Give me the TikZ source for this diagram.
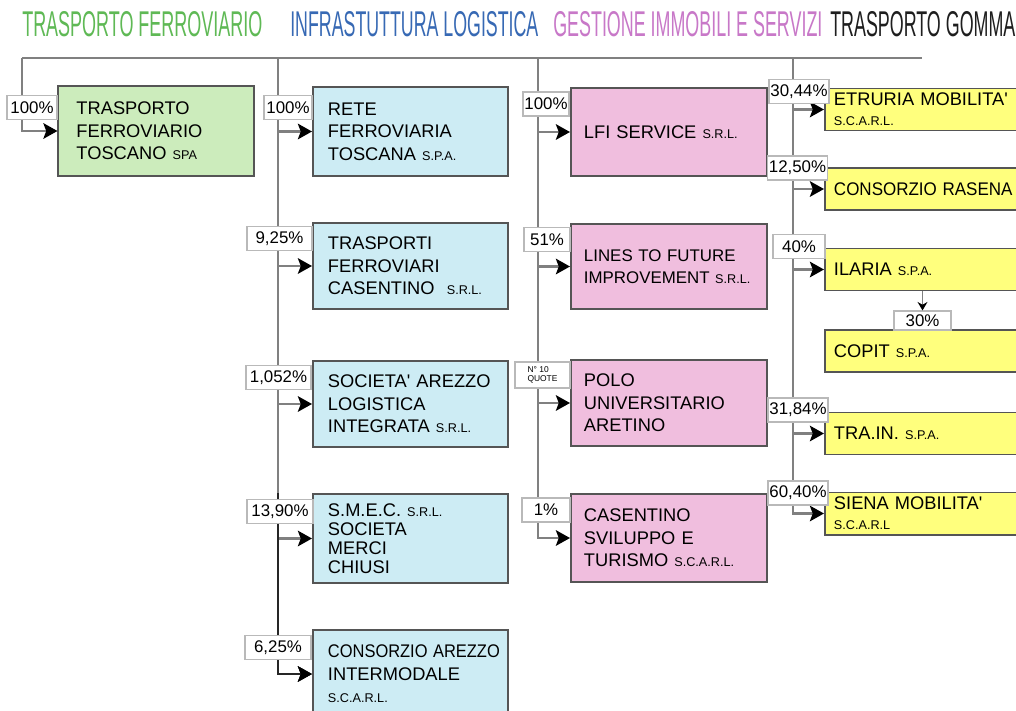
\documentclass[tikz,border=0pt]{standalone}
\usepackage{fontspec}
\setmainfont{Liberation Sans}
\usetikzlibrary{arrows.meta}
\definecolor{hdgreen}{RGB}{95,185,85}
\definecolor{hdblue}{RGB}{55,105,180}
\definecolor{hdpink}{RGB}{200,120,200}
\definecolor{hdblack}{RGB}{30,30,30}
\definecolor{tftgreen}{RGB}{204,236,188}
\definecolor{infblue}{RGB}{205,236,244}
\definecolor{svcpink}{RGB}{240,190,222}
\definecolor{gomyellow}{RGB}{255,255,125}
\definecolor{boxline}{RGB}{85,85,85}
\definecolor{busgray}{RGB}{128,128,128}
\definecolor{pctline}{RGB}{185,185,185}
\newcommand{\suf}[1]{{\fontsize{9}{10}\selectfont #1}}
\newcommand{\hdr}[3]{\resizebox{#1}{#2}{#3}}

\begin{document}
\begin{tikzpicture}[x=0.025cm, y=-0.025cm,
    box/.style={draw=boxline, line width=1.4pt, align=left, inner ysep=0pt,
      font=\fontsize{13}{16}\selectfont},
    col1/.style={fill=tftgreen, text width=3.975cm, inner xsep=0.45cm},
    col2/.style={fill=infblue, text width=4.125cm, inner xsep=0.375cm},
    col3/.style={fill=svcpink, text width=4.25cm, inner xsep=0.325cm},
    col4/.style={fill=gomyellow, text width=6.425cm, inner xsep=0.225cm,
      minimum height=1.05cm, font=\fontsize{13}{14}\selectfont},
    pct/.style={draw=pctline, fill=white, line width=0.8pt, inner xsep=1pt,
      inner ysep=0pt, minimum height=0.6cm, font=\fontsize{12}{12}\selectfont},
    bus/.style={draw=busgray, line width=1.8pt},
    arr/.style={draw=busgray, line width=1.8pt,
      -{Stealth[length=10pt, width=11pt, inset=2pt, color=black]}}]

  \fill[white] (0,0) rectangle (1016,710);
  \useasboundingbox (0,0) rectangle (1016,710);
  \clip (0,0) rectangle (1016,710);

  \begin{scope}[every node/.style={anchor=south west, inner sep=0pt}]
    \node[text=hdgreen] (h1) at (22,37) {\hdr{6cm}{0.625cm}{TRASPORTO FERROVIARIO}};
    \node[text=hdblue]  (h2) at (290,37) {\hdr{6.2cm}{0.625cm}{INFRASTUTTURA LOGISTICA}};
    \node[text=hdpink]  (h3) at (553,37) {\hdr{6.725cm}{0.625cm}{GESTIONE IMMOBILI E SERVIZI}};
    \node[text=hdblack] (h4) at (830,37) {\hdr{4.625cm}{0.625cm}{TRASPORTO GOMMA}};
  \end{scope}

  \begin{scope}[every node/.style={box}]
    \node[col1, minimum height=2.25cm] (tft) at (156,131) {TRASPORTO\\FERROVIARIO\\TOSCANO \suf{SPA}};

    \node[col2, minimum height=2.225cm] (rft)  at (410.5,131.5) {RETE\\FERROVIARIA\\TOSCANA \suf{S.P.A.}};
    \node[col2, minimum height=2.15cm]  (tfc)  at (410.5,266)   {TRASPORTI\\FERROVIARI\\CASENTINO~ \suf{S.R.L.}};
    \node[col2, minimum height=2.15cm]  (sali) at (410.5,404)   {SOCIETA\textquotesingle{} AREZZO\\LOGISTICA\\INTEGRATA \suf{S.R.L.}};
    \node[col2, minimum height=2.225cm, font=\fontsize{13}{13.5}\selectfont]
      (smec) at (410.5,538.5) {S.M.E.C. \suf{S.R.L.}\\SOCIETA\\MERCI\\CHIUSI};
    \node[col2, minimum height=2.2cm]   (cai)  at (410.5,674)   {\scalebox{0.9}[1]{CONSORZIO AREZZO}\\INTERMODALE\\\suf{S.C.A.R.L.}};

    \node[col3, minimum height=2.2cm]   (lfi)  at (669,132)   {LFI SERVICE \suf{S.R.L.}};
    \node[col3, minimum height=2.125cm, font=\fontsize{12}{16}\selectfont]
      (ltf)  at (669,266.5) {LINES TO FUTURE\\IMPROVEMENT \suf{S.R.L.}};
    \node[col3, minimum height=2.15cm]  (pua)  at (669,403)   {POLO\\UNIVERSITARIO\\ARETINO};
    \node[col3, minimum height=2.2cm]   (cst)  at (669,538)   {CASENTINO\\SVILUPPO E\\TURISMO \suf{S.C.A.R.L.}};

    \node[col4] (etr) at (962.5,109.5) {ETRURIA MOBILITA\textquotesingle\\\suf{S.C.A.R.L.}};
    \node[col4] (ras) at (962.5,189)   {\scalebox{0.93}[1]{CONSORZIO RASENA}};
    \node[col4] (ila) at (962.5,269.5) {ILARIA \suf{S.P.A.}};
    \node[col4] (cop) at (962.5,351)   {COPIT \suf{S.P.A.}};
    \node[col4] (tra) at (962.5,433.5) {TRA.IN. \suf{S.P.A.}};
    \node[col4] (sie) at (962.5,513.5) {SIENA MOBILITA\textquotesingle\\\suf{S.C.A.R.L}};
  \end{scope}

  \coordinate (b1) at (22,58);
  \coordinate (b2) at (278,58);
  \coordinate (b3) at (538,58);
  \coordinate (b4) at (793,58);
  \coordinate (bend) at (922,58);

  \draw[bus] (b1) -- (bend);
  \draw[arr] (b1) |- (tft.west);
  \foreach \n in {rft,tfc,sali,smec,cai}
    \draw[arr] (b2) |- (\n.west);
  \draw[arr, draw=black!85] (b2 |- smec.north) |- (cai.west);
  \foreach \n in {lfi,ltf,pua,cst}
    \draw[arr] (b3) |- (\n.west);
  \foreach \n in {etr,ras,ila,tra,sie}
    \draw[arr] (b4) |- (\n.west);

  \begin{scope}[every node/.style={pct}]
    \node[minimum width=1.25cm]  (ptft)  at (32,107.5)  {100\%};

    \node[minimum width=1.2cm]   (prft)  at (288,107.5) {100\%};
    \node[minimum width=1.625cm] (ptfc)  at (279.5,238.5) {9,25\%};
    \node[minimum width=1.625cm] (psali) at (278.5,377.5) {1,052\%};
    \node[minimum width=1.65cm]  (psmec) at (280,511.5) {13,90\%};
    \node[minimum width=1.65cm]  (pcai)  at (278,647.5) {6,25\%};

    \node[minimum width=1.15cm]  (plfi)  at (546,104)   {100\%};
    \node[minimum width=1.15cm]  (pltf)  at (547,239.5) {51\%};
    \node[minimum width=1.375cm, minimum height=0.65cm, align=left,
      font=\fontsize{6}{6.5}\selectfont] (ppua) at (542.5,375) {N° 10\\QUOTE};
    \node[minimum width=1.2cm]   (pcst)  at (546,510)   {1\%};

    \node[minimum width=1.4cm]   (petr)  at (799,91.5)  {30,44\%};
    \node[minimum width=1.375cm] (pras)  at (797.5,168) {12,50\%};
    \node[minimum width=1.3cm]   (pila)  at (799,246.5) {40\%};
    \node[minimum width=1.425cm, minimum height=0.475cm] (pcop) at (922.5,320.5) {30\%};
    \node[minimum width=1.4cm]   (ptra)  at (798,410)   {31,84\%};
    \node[minimum width=1.4cm]   (psie)  at (798,493)   {60,40\%};
  \end{scope}

  \draw[arr, line width=1pt, -{Stealth[length=6pt, width=7pt, color=black]}]
    (ila.south -| pcop) -- (pcop.north);

\end{tikzpicture}
\end{document}
